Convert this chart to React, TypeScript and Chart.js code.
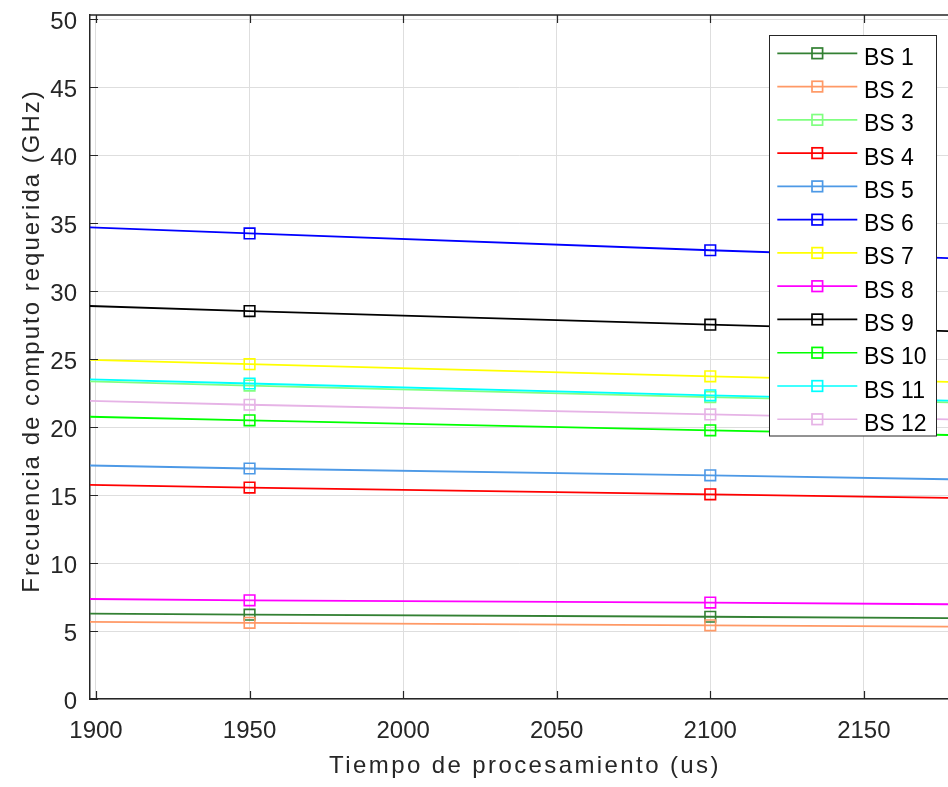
import React, { useEffect, useRef } from "react";
import { Chart, registerables } from "chart.js";

Chart.register(...registerables);

// ---- Data ----
const timeValues = [1800, 1950, 2100, 2250];
const seriesLabels = ["BS 1", "BS 2", "BS 3", "BS 4", "BS 5", "BS 6", "BS 7", "BS 8", "BS 9", "BS 10", "BS 11", "BS 12"];
const bs1 = [6.43, 6.2, 6.05, 5.85];
const bs2 = [5.81, 5.6, 5.42, 5.24];
const bs3 = [23.92, 23.05, 22.2, 21.45];
const bs4 = [16.13, 15.55, 15.05, 14.54];
const bs5 = [17.59, 16.95, 16.45, 15.89];
const bs6 = [35.53, 34.24, 33.0, 31.89];
const bs7 = [25.55, 24.62, 23.73, 22.93];
const bs8 = [7.53, 7.26, 7.09, 6.85];
const bs9 = [29.6, 28.53, 27.53, 26.6];
const bs10 = [21.26, 20.49, 19.76, 19.09];
const bs11 = [24.07, 23.2, 22.33, 21.58];
const bs12 = [22.45, 21.64, 20.93, 20.22];
const seriesValues = [bs1, bs2, bs3, bs4, bs5, bs6, bs7, bs8, bs9, bs10, bs11, bs12];
const seriesColors = [
  "#338033", "#ff9966", "#80ff80", "#ff0000", "#4d99e6", "#0000ff",
  "#ffff00", "#ff00ff", "#000000", "#00ff00", "#00ffff", "#e6b3e6",
];
const xRange = [1898.05, 2177.4];
const yRange = [0, 50.3];
const xStep = 50;
const yStep = 5;
const xTitle = "Tiempo de procesamiento (us)";
const yTitle = "Frecuencia de computo requerida (GHz)";

const AXIS_COLOR = "#262626";
const GRID_COLOR = "#dedede";
const FONT = "'Liberation Sans', Arial, Helvetica, sans-serif";

const decorPlugin = {
  id: "matlabDecor",
  afterDraw(chart: any) {
    const { ctx, chartArea: a, scales } = chart;
    ctx.save();
    // top border
    ctx.strokeStyle = AXIS_COLOR;
    ctx.lineWidth = 1.5;
    ctx.beginPath();
    ctx.moveTo(a.left, a.top);
    ctx.lineTo(a.right, a.top);
    ctx.stroke();
    // inward tick marks
    const tl = 8;
    ctx.lineWidth = 1.2;
    ctx.beginPath();
    scales.x.ticks.forEach((t: any) => {
      const px = Math.round(scales.x.getPixelForValue(t.value)) + 0.5;
      ctx.moveTo(px, a.bottom);
      ctx.lineTo(px, a.bottom - tl);
      ctx.moveTo(px, a.top);
      ctx.lineTo(px, a.top + tl);
    });
    scales.y.ticks.forEach((t: any) => {
      const py = Math.round(scales.y.getPixelForValue(t.value)) + 0.5;
      ctx.moveTo(a.left, py);
      ctx.lineTo(a.left + tl, py);
    });
    ctx.stroke();

    // legend
    const lx = 769.5, ly = 35.5, lw = 167, lh = 400.5;
    ctx.fillStyle = "#ffffff";
    ctx.fillRect(lx, ly, lw, lh);
    ctx.strokeStyle = AXIS_COLOR;
    ctx.lineWidth = 1;
    ctx.strokeRect(lx, ly, lw, lh);
    const ds = chart.data.datasets;
    ds.forEach((d: any, i: number) => {
      const cy = 53.3 + i * 33.27;
      ctx.strokeStyle = d.borderColor;
      ctx.lineWidth = 1.7;
      ctx.beginPath();
      ctx.moveTo(777.3, cy);
      ctx.lineTo(857.3, cy);
      ctx.stroke();
      ctx.strokeRect(817.3 - 5.3, cy - 5.3, 10.6, 10.6);
      ctx.fillStyle = "#000000";
      ctx.font = `23px ${FONT}`;
      ctx.textAlign = "left";
      ctx.textBaseline = "alphabetic";
      ctx.fillText(d.label, 864, cy + 11.5);
    });

    // axis titles
    ctx.fillStyle = AXIS_COLOR;
    ctx.font = `24px ${FONT}`;
    try { (ctx as any).letterSpacing = "2.4px"; } catch (e) {}
    ctx.textAlign = "center";
    ctx.textBaseline = "alphabetic";
    ctx.fillText(xTitle, 525, 773);
    ctx.save();
    ctx.translate(39, 341);
    ctx.rotate(-Math.PI / 2);
    try { (ctx as any).letterSpacing = "2px"; } catch (e) {}
    ctx.fillText(yTitle, 0, 0);
    ctx.restore();
    try { (ctx as any).letterSpacing = "0px"; } catch (e) {}
    ctx.restore();
  },
};

export default function App() {
  const canvasRef = useRef<HTMLCanvasElement | null>(null);

  useEffect(() => {
    if (!canvasRef.current) return;
    const datasets = seriesValues.map((vals, i) => ({
      label: seriesLabels[i],
      data: timeValues.map((t, j) => ({ x: t, y: vals[j] })),
      borderColor: seriesColors[i],
      backgroundColor: "transparent",
      pointBorderColor: seriesColors[i],
      pointBackgroundColor: "rgba(0,0,0,0)",
      pointStyle: "rect",
      pointRadius: 7.5,
      pointBorderWidth: 1.6,
      borderWidth: 1.8,
      tension: 0,
      clip: 0,
      order: seriesValues.length - 1 - i,
    }));
    const chart = new Chart(canvasRef.current, {
      type: "line",
      data: { datasets },
      options: {
        animation: false,
        responsive: true,
        maintainAspectRatio: false,
        devicePixelRatio: 1,
        layout: { autoPadding: false, padding: { top: 15, right: 0, left: 0, bottom: 0 } },
        plugins: { legend: { display: false }, tooltip: { enabled: false } },
        scales: {
          x: {
            type: "linear",
            min: xRange[0],
            max: xRange[1],
            afterFit: (s: any) => { s.height = 88; s.paddingLeft = 0; s.paddingRight = 0; },
            ticks: {
              stepSize: xStep,
              includeBounds: false,
              autoSkip: false,
              maxRotation: 0,
              padding: 18,
              color: AXIS_COLOR,
              font: { family: FONT, size: 24 },
              callback: (v: any) => String(v),
            },
            grid: { color: GRID_COLOR, lineWidth: 1, drawTicks: false },
            border: { display: true, color: AXIS_COLOR, width: 1.5 },
          },
          y: {
            type: "linear",
            min: yRange[0],
            max: yRange[1],
            afterFit: (s: any) => { s.width = 90; s.paddingTop = 0; s.paddingBottom = 0; },
            ticks: {
              stepSize: yStep,
              includeBounds: false,
              padding: 13,
              labelOffset: 3,
              color: AXIS_COLOR,
              font: { family: FONT, size: 24 },
              callback: (v: any) => String(v),
            },
            grid: { color: GRID_COLOR, lineWidth: 1, drawTicks: false },
            border: { display: true, color: AXIS_COLOR, width: 1.5 },
          },
        },
      },
      plugins: [decorPlugin],
    } as any);
    return () => chart.destroy();
  }, []);

  return (
    <div style={{ position: "fixed", left: 0, top: 0, width: 948, height: 787, background: "#fff" }}>
      <canvas ref={canvasRef} />
    </div>
  );
}
